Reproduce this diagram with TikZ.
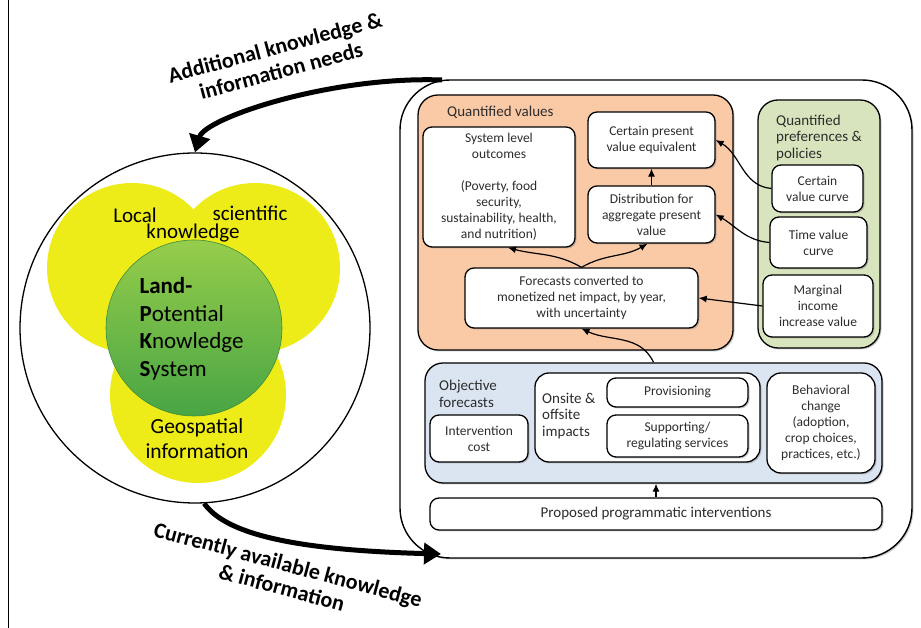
\documentclass[tikz,border=0pt]{standalone}
\usepackage{fontspec}
\setmainfont{Carlito}
\usepackage{tikz}
\usetikzlibrary{shadows, positioning, arrows.meta}
\definecolor{peach}{RGB}{250,201,166}
\definecolor{sage}{RGB}{215,228,189}
\definecolor{paleblue}{RGB}{219,229,241}
\definecolor{lemon}{RGB}{238,236,24}
\definecolor{ink}{RGB}{45,45,45}
\tikzset{
    x=1pt, y=1pt,
    box/.style = {rectangle, rounded corners=9pt, draw, line width=1.3pt, fill=white, align=center, text=ink, inner sep=2pt,
        font=\fontsize{13.5}{16}\selectfont, drop shadow={shadow xshift=1.5pt, shadow yshift=-1.5pt, opacity=0.4}}, % plain white box
    group/.style = {box, rounded corners=20pt}, % coloured frame round a set of boxes
    tag/.style = {align=left, text=ink, font=\fontsize{15}{16.5}\selectfont, inner sep=0pt}, % title of a frame
    link/.style = {-{Latex[length=8pt,width=7pt]}, line width=1.2pt},
    bigarrow/.style = {-{Triangle[length=17pt,width=21pt]}, line width=5pt},
    blob/.style = {circle, fill=lemon, inner sep=0pt},
    bigtext/.style = {align=center, font=\bfseries\fontsize{22}{24}\selectfont}
}
\begin{document}
\begin{tikzpicture}
\useasboundingbox (0,0) rectangle (921,628);
\draw[line width=1pt] (8,0) -- (8,628);
% knowledge system on the left
\node[circle, draw, line width=1.3pt, minimum size=350pt] (lpks) at (195,300) {};
\node[blob, minimum size=170pt] (localb) at (132,360) {};
\node[blob, minimum size=170pt] (scib) at (255,360) {};
\node[blob, minimum size=176pt] (geob) at (198,233) {};
\shade[top color={rgb,255:red,150;green,205;blue,75}, bottom color={rgb,255:red,72;green,165;blue,68}, draw={rgb,255:red,60;green,140;blue,60}, line width=0.6pt] (194,300) circle (88);
\node[font=\fontsize{21}{24}\selectfont] (local) at (135,413) {Local};
\node[font=\fontsize{21}{24}\selectfont] (sci) at (250,415) {scientific};
\node[font=\fontsize{21}{24}\selectfont] (knw) at (193,395) {knowledge};
\node[align=left, anchor=west, font=\fontsize{23}{27.5}\selectfont] (core) at (136,299) {\textbf{Land-}\\\textbf{P}otential\\\textbf{K}nowledge\\\textbf{S}ystem};
\node[align=center, font=\fontsize{21.5}{25}\selectfont] (geo) at (197,189) {Geospatial\\information};
% frame on the right
\node[rectangle, draw, line width=1.4pt, rounded corners=50pt, minimum width=512pt, minimum height=478pt,
      drop shadow={shadow xshift=1.5pt, shadow yshift=-1.5pt, opacity=0.4}, fill=white] (frame) at (656,309) {};
\node[group, fill=peach, minimum width=315pt, minimum height=255pt] (qv) at (575.5,405.5) {};
\node[tag, anchor=west] (qvtag) at (447,516) {Quantified values};
\node[box, minimum width=152pt, minimum height=120pt] (sys) at (499,441) {System level\\outcomes\\[16pt](Poverty, food\\security,\\sustainability, health,\\and nutrition)};
\node[box, minimum width=127pt, minimum height=56pt] (cpve) at (651.5,488) {Certain present\\value equivalent};
\node[box, minimum width=127pt, minimum height=57pt] (dist) at (651.5,413.5) {Distribution for\\aggregate present\\value};
\node[box, minimum width=233pt, minimum height=60pt] (fcst) at (581.5,330) {Forecasts converted to\\monetized net impact, by year,\\with uncertainty};
\node[group, fill=sage, minimum width=122pt, minimum height=248pt] (pref) at (819,404) {};
\node[tag, anchor=west] (preftag) at (776,490) {Quantified\\preferences \&\\policies};
\node[box, minimum width=91pt, minimum height=47pt] (cvc) at (817.5,439.5) {Certain\\value curve};
\node[box, minimum width=97pt, minimum height=51pt] (tvc) at (818.5,385.5) {Time value\\curve};
\node[box, minimum width=110pt, minimum height=62pt] (miv) at (818,322) {Marginal\\income\\increase value};
\node[group, fill=paleblue, rounded corners=18pt, minimum width=457pt, minimum height=120pt] (obj) at (653.5,205) {};
\node[tag, anchor=west] (objtag) at (439,234) {Objective\\forecasts};
\node[box, minimum width=98pt, minimum height=47pt] (cost) at (479,189.5) {Intervention\\cost};
\node[box, rounded corners=14pt, minimum width=225pt, minimum height=89pt] (imp) at (647.5,210.5) {};
\node[tag, anchor=west] (imptag) at (542,212) {Onsite \&\\offsite\\impacts};
\node[box, minimum width=141pt, minimum height=29pt] (prov) at (677.5,235.5) {Provisioning};
\node[box, minimum width=141pt, minimum height=42pt] (supp) at (677.5,192) {Supporting/\\regulating services};
\node[box, rounded corners=14pt, minimum width=108pt, minimum height=100pt] (behv) at (821,205) {Behavioral\\change\\(adoption,\\crop choices,\\practices, etc.)};
\node[box, minimum width=452pt, minimum height=32pt, font=\fontsize{15}{16}\selectfont] (prop) at (656,114) {Proposed programmatic interventions};
% links between boxes
\draw[link] (prop.north) -- (prop.north |- obj.south);
\draw[link] (obj.north) to[out=115,in=-25] (fcst.south);
\draw[link] (fcst.north) to[out=150,in=-15] ([xshift=9pt]sys.south);
\draw[link] (fcst.north) to[out=30,in=-150] ([xshift=-4pt]dist.south);
\draw[link] (dist.north) -- (cpve.south);
\draw[link] (cvc.west) to[out=175,in=-30] (cpve.east);
\draw[link] (tvc.west) to[out=175,in=-30] (dist.east);
\draw[link] (miv.west) -- (fcst.east);
% exchange between the two sides
\coordinate (needs) at (442,548);
\coordinate (avail) at (441,74);
\draw[bigarrow] (needs) .. controls (330,552) and (205,510) .. (lpks.north);
\draw[bigarrow] (lpks.-87) .. controls (225,95) and (290,78) .. (avail);
\node[bigtext, rotate=15] (needtxt) at (278,569) {Additional knowledge \&\\information needs};
\node[bigtext, rotate=-15] (availtxt) at (285,52) {Currently available knowledge\\\& information};
\end{tikzpicture}
\end{document}
